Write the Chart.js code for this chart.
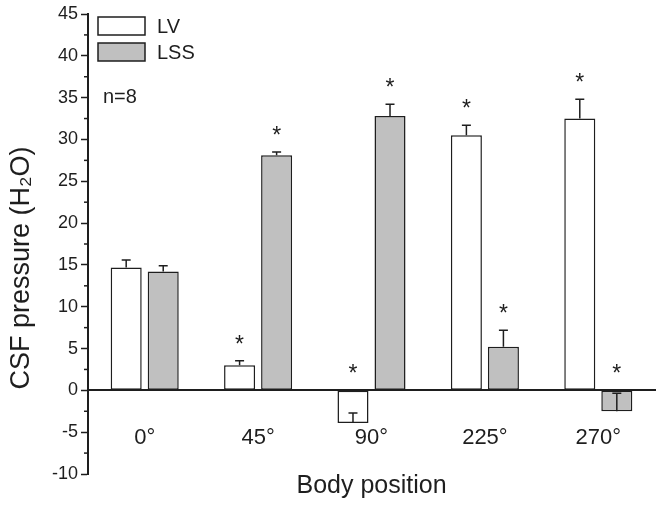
<!DOCTYPE html>
<html>
<head>
<meta charset="utf-8">
<script src="https://cdn.jsdelivr.net/npm/chart.js@4/dist/chart.umd.min.js"></script>
<style>
  html, body { margin: 0; padding: 0; background: #fff; }
  #wrap { width: 664px; height: 505px; }
</style>
</head>
<body>
<div id="wrap"><canvas id="myChart"></canvas></div>
<script>
// data
var categories = ['0°', '45°', '90°', '225°', '270°'];
var lvMean  = [14.7, 3.0, -3.9, 30.5, 32.5];
var lvErr   = [0.9, 0.55, 1.2, 1.2, 2.3];
var lssMean = [14.2, 28.1, 32.8, 5.2, -2.5];
var lssErr  = [0.7, 0.4, 1.4, 2.0, 2.15];
var lvStar  = [false, true, true, true, true];
var lssStar = [false, true, true, true, true];
var yMin = -10, yMax = 45, yStep = 5;

var ink = '#1e1e1e';
var fam = 'Arial, "Liberation Sans", sans-serif';

// error bars, asterisks, legend, minor ticks, y title
var extras = {
  id: 'extras',
  afterDatasetsDraw: function(chart) {
    var ctx = chart.ctx, y = chart.scales.y;
    var errs = [lvErr, lssErr], stars = [lvStar, lssStar];
    ctx.save();
    ctx.strokeStyle = ink;
    ctx.fillStyle = ink;
    ctx.lineWidth = 1.5;
    ctx.font = '23px ' + fam;
    ctx.textAlign = 'center';
    ctx.textBaseline = 'alphabetic';
    chart.data.datasets.forEach(function(ds, i) {
      chart.getDatasetMeta(i).data.forEach(function(bar, j) {
        var v = ds.data[j];
        var y0 = y.getPixelForValue(v);
        var y1 = y.getPixelForValue(v + errs[i][j]);
        ctx.beginPath();
        ctx.moveTo(bar.x, y0);
        ctx.lineTo(bar.x, y1);
        ctx.moveTo(bar.x - 4.5, y1);
        ctx.lineTo(bar.x + 4.5, y1);
        ctx.stroke();
        if (stars[i][j]) {
          var sy = Math.min(y1, y.getPixelForValue(0)) - 22;
          ctx.fillText('*', bar.x, sy + 13);
        }
      });
    });
    ctx.restore();
  },
  afterDraw: function(chart) {
    var ctx = chart.ctx, y = chart.scales.y, a = chart.chartArea;
    ctx.save();
    // minor ticks
    ctx.strokeStyle = ink;
    ctx.lineWidth = 1.5;
    for (var v = yMin + yStep / 2; v < yMax; v += yStep) {
      var p = y.getPixelForValue(v);
      ctx.beginPath();
      ctx.moveTo(a.left - 4, p);
      ctx.lineTo(a.left, p);
      ctx.stroke();
    }
    // legend
    ctx.font = '20px ' + fam;
    ctx.textAlign = 'left';
    ctx.textBaseline = 'middle';
    chart.data.datasets.forEach(function(ds, i) {
      var bx = a.left + 10, by = 17 + i * 26;
      ctx.fillStyle = ds.backgroundColor;
      ctx.fillRect(bx, by, 47, 18);
      ctx.lineWidth = 1.5;
      ctx.strokeStyle = ink;
      ctx.strokeRect(bx, by, 47, 18);
      ctx.fillStyle = ink;
      ctx.fillText(ds.label, bx + 59, by + 10);
    });
    ctx.fillText('n=8', a.left + 15, 97);
    // y axis title
    ctx.translate(22, 268);
    ctx.rotate(-Math.PI / 2);
    ctx.font = '27px ' + fam;
    ctx.textAlign = 'center';
    ctx.fillText('CSF pressure (H\u2082O)', 0, 0);
    ctx.restore();
  }
};

var ctx = document.getElementById('myChart').getContext('2d');
var chart = new Chart(ctx, {
  type: 'bar',
  data: {
    labels: categories,
    datasets: [{
      label: 'LV',
      data: lvMean,
      backgroundColor: '#ffffff',
      borderColor: ink,
      borderWidth: 1.5,
      borderSkipped: false
    }, {
      label: 'LSS',
      data: lssMean,
      backgroundColor: '#c0c0c0',
      borderColor: ink,
      borderWidth: 1.5,
      borderSkipped: false
    }]
  },
  options: {
    responsive: true,
    maintainAspectRatio: false,
    animation: false,
    categoryPercentage: 0.653,
    barPercentage: 0.838,
    layout: { padding: { top: 14, right: 9, bottom: 0, left: 0 } },
    plugins: {
      legend: { display: false },
      tooltip: { enabled: false },
      title: {
        display: true,
        position: 'bottom',
        fullSize: false,
        text: 'Body position',
        color: ink,
        font: { family: fam, size: 25, weight: 'normal', lineHeight: 1 },
        padding: { top: 0, bottom: 6 }
      }
    },
    scales: {
      x: {
        position: { y: 0 },
        afterFit: function(s) { s.height = 0; },
        grid: { display: false, drawTicks: false },
        border: { display: true, color: ink, width: 2 },
        ticks: { color: ink, padding: 34, font: { family: fam, size: 22 } }
      },
      y: {
        min: yMin,
        max: yMax,
        afterFit: function(s) { s.width = 88; },
        ticks: { stepSize: yStep, color: ink, padding: 3, font: { family: fam, size: 18 } },
        grid: { drawOnChartArea: false, tickLength: 7, tickColor: ink, tickWidth: 1.5 },
        border: { display: true, color: ink, width: 2 }
      }
    }
  },
  plugins: [extras]
});
</script>
</body>
</html>
